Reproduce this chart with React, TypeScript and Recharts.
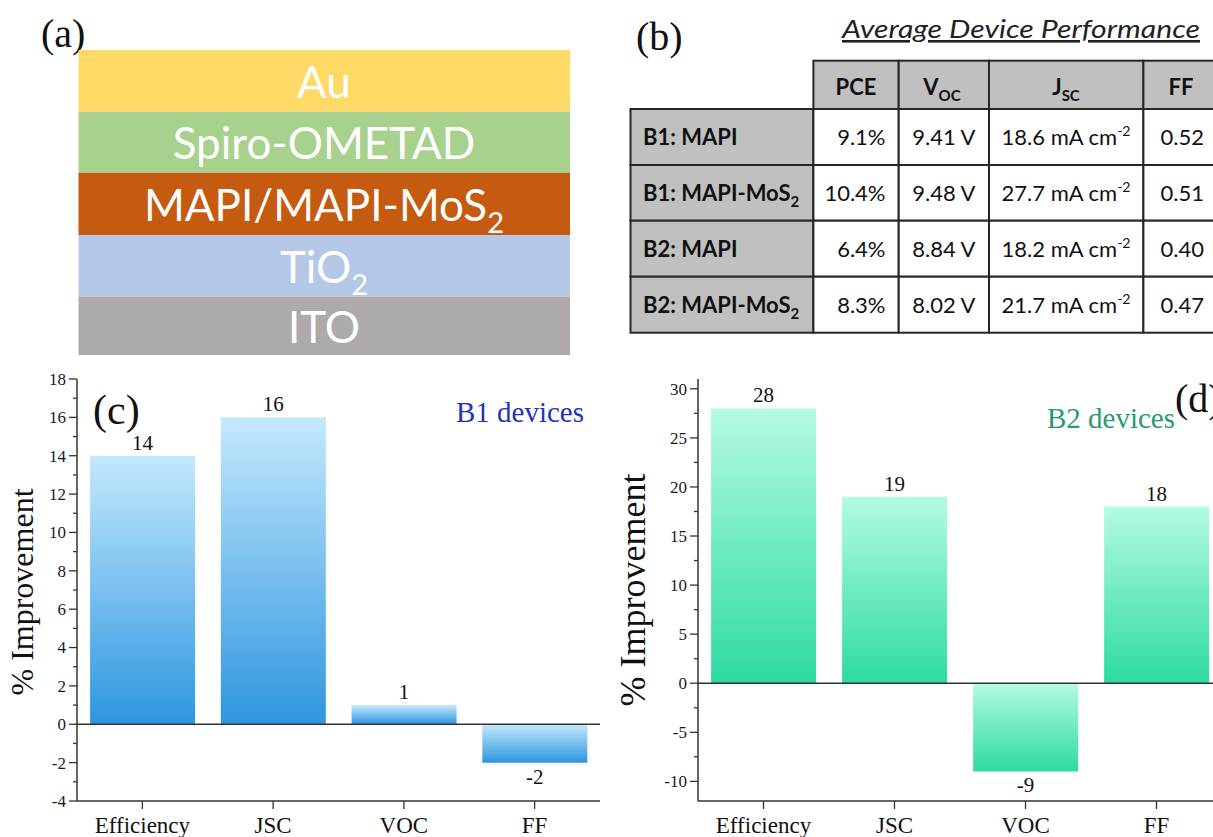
import React from "react"
import { Bar, BarChart, LabelList, ReferenceLine, XAxis, YAxis } from "recharts"

const serif = "'Liberation Serif', 'Times New Roman', serif"
const sans = "Lato, 'Open Sans', sans-serif"

// (c) and (d) bar data
const categories = ["Efficiency", "JSC", "VOC", "FF"]
const b1Improvement = [14, 16, 1, -2]
const b2Improvement = [28, 19, -9, 18]
const b1Ticks = [-4, -3, -2, -1, 0, 1, 2, 3, 4, 5, 6, 7, 8, 9, 10, 11, 12, 13, 14, 15, 16, 17, 18]
const b2Ticks = [-10, -7.5, -5, -2.5, 0, 2.5, 5, 7.5, 10, 12.5, 15, 17.5, 20, 22.5, 25, 27.5, 30]

// (a) device stack
const layerNames = ["Au", "Spiro-OMETAD", "MAPI/MAPI-MoS", "TiO", "ITO"]
const layerSubs = ["", "", "2", "2", ""]
const layerColors = ["#ffd966", "#a9d18e", "#c55a11", "#b4c7e7", "#aeaaaa"]

// (b) table
const rowLabels = ["B1: MAPI", "B1: MAPI-MoS", "B2: MAPI", "B2: MAPI-MoS"]
const rowLabelSubs = ["", "2", "", "2"]
const pceValues = ["9.1%", "10.4%", "6.4%", "8.3%"]
const vocValues = ["9.41 V", "9.48 V", "8.84 V", "8.02 V"]
const jscValues = ["18.6", "27.7", "18.2", "21.7"]
const ffValues = ["0.52", "0.51", "0.40", "0.47"]

const b1Data = categories.map((name, i) => ({ name, value: b1Improvement[i] }))
const b2Data = categories.map((name, i) => ({ name, value: b2Improvement[i] }))

const axisColor = "#333"

const makeYTick = (step: number) => (props: any) => {
  const { x, y, payload } = props
  const major = Math.abs(payload.value % step) < 1e-6
  return (
    <g>
      <line x1={x - (major ? 8 : 4)} x2={x} y1={y} y2={y} stroke={axisColor} strokeWidth={1.3} />
      {major && (
        <text x={x - 11} y={y} dy="0.35em" textAnchor="end" fontSize={17} style={{ fontFamily: serif }} fill="#1a1a1a">
          {payload.value}
        </text>
      )}
    </g>
  )
}

interface ImprovementChartProps {
  data: { name: string; value: number }[]
  domain: [number, number]
  ticks: number[]
  step: number
  gradId: string
  light: string
  dark: string
  width: number
  marginLeft: number
  marginRight: number
}

function ImprovementChart(p: ImprovementChartProps) {
  return (
    <BarChart
      width={p.width}
      height={477}
      data={p.data}
      margin={{ top: 19, right: p.marginRight, bottom: 0, left: p.marginLeft }}
      barCategoryGap="10%"
      style={{ fontFamily: serif }}
    >
      <defs>
        <linearGradient id={p.gradId} x1="0" y1="0" x2="0" y2="1">
          <stop offset="0" stopColor={p.light} />
          <stop offset="1" stopColor={p.dark} />
        </linearGradient>
      </defs>
      <XAxis
        dataKey="name"
        height={36}
        tickSize={8}
        tickMargin={8}
        axisLine={{ stroke: axisColor, strokeWidth: 1.5 }}
        tickLine={{ stroke: axisColor, strokeWidth: 1.3 }}
        tick={{ fontSize: 23, fill: "#111", fontFamily: serif, style: { fontFamily: serif } }}
      />
      <XAxis xAxisId="top" dataKey="name" orientation="top" height={0} tick={false} tickLine={false} axisLine={{ stroke: axisColor, strokeWidth: 1.5 }} />
      <YAxis
        width={60}
        domain={p.domain}
        ticks={p.ticks}
        interval={0}
        tickSize={0}
        tickMargin={0}
        tickLine={false}
        axisLine={{ stroke: axisColor, strokeWidth: 1.5 }}
        tick={makeYTick(p.step)}
      />
      <YAxis yAxisId="right" orientation="right" width={0} domain={p.domain} tick={false} tickLine={false} axisLine={{ stroke: axisColor, strokeWidth: 1.5 }} />
      <ReferenceLine y={0} stroke={axisColor} strokeWidth={1.5} />
      <Bar dataKey="value" fill={`url(#${p.gradId})`} isAnimationActive={false}>
        <LabelList dataKey="value" position="top" offset={6} fontSize={21} fill="#111" fontFamily={serif} />
      </Bar>
    </BarChart>
  )
}

const layerBounds = [50, 111.7, 172.7, 235, 296.7, 355]
const colX = [630.5, 813.4, 898.7, 989, 1143.4, 1217]
const rowY = [60.7, 109, 165, 220.7, 276.7, 332.7]

function Overlay() {
  const border = "#262626"
  return (
    <svg width={1213} height={837} style={{ position: "absolute", left: 0, top: 0, pointerEvents: "none" }}>
      {/* panel letters */}
      <text x={41} y={47} fontSize={40} fontFamily={serif} fill="#111">(a)</text>
      <text x={636} y={50} fontSize={40} fontFamily={serif} fill="#111">(b)</text>
      <text x={93} y={424} fontSize={42} fontFamily={serif} fill="#111">(c)</text>
      <text x={1175} y={412} fontSize={40} fontFamily={serif} fill="#111">(d)</text>
      <text x={584} y={422} textAnchor="end" fontSize={29} fontFamily={serif} fill="#2233bb">B1 devices</text>
      <text x={1175} y={428} textAnchor="end" fontSize={29} fontFamily={serif} fill="#2a9a6e">B2 devices</text>
      <text transform="translate(33,592) rotate(-90)" textAnchor="middle" fontSize={32} fontFamily={serif} fill="#111">% Improvement</text>
      <text transform="translate(645,590) rotate(-90)" textAnchor="middle" fontSize={36} fontFamily={serif} fill="#111">% Improvement</text>

      {/* (a) layer stack */}
      {layerNames.map((name, i) => {
        const y0 = layerBounds[i]
        const y1 = layerBounds[i + 1]
        return (
          <g key={name}>
            <rect x={78.5} y={y0} width={491.5} height={y1 - y0} fill={layerColors[i]} />
            <text x={324} y={(y0 + y1) / 2 + 17} textAnchor="middle" fontSize={44} fontFamily={sans} fill="#fff">
              {name}
              {layerSubs[i] && <tspan fontSize={29} dy={12}>{layerSubs[i]}</tspan>}
            </text>
          </g>
        )
      })}

      {/* (b) table */}
      <text x={842} y={38} fontSize={26} fontStyle="italic" fontFamily={sans} fill="#222" textLength={358} lengthAdjust="spacingAndGlyphs" style={{ textDecoration: "underline" }}>
        Average Device Performance
      </text>
      {[1, 2, 3, 4].map((c) => (
        <rect key={`h${c}`} x={colX[c]} y={rowY[0]} width={colX[c + 1] - colX[c]} height={rowY[1] - rowY[0]} fill="#c0c0c0" stroke={border} strokeWidth={2} />
      ))}
      {rowLabels.map((label, r) => {
        const y0 = rowY[r + 1]
        const y1 = rowY[r + 2]
        const base = (y0 + y1) / 2 + 8
        return (
          <g key={label + r}>
            <rect x={colX[0]} y={y0} width={colX[1] - colX[0]} height={y1 - y0} fill="#c0c0c0" stroke={border} strokeWidth={2} />
            {[1, 2, 3, 4].map((c) => (
              <rect key={c} x={colX[c]} y={y0} width={colX[c + 1] - colX[c]} height={y1 - y0} fill="#fff" stroke={border} strokeWidth={2} />
            ))}
            <text x={643} y={base} fontSize={22} fontWeight="bold" fontFamily={sans} fill="#111">
              {label}
              {rowLabelSubs[r] && <tspan fontSize={15} dy={6}>{rowLabelSubs[r]}</tspan>}
            </text>
            <text x={885.5} y={base} textAnchor="end" fontSize={22} fontFamily={sans} fill="#111">{pceValues[r]}</text>
            <text x={975.5} y={base} textAnchor="end" fontSize={22} fontFamily={sans} fill="#111">{vocValues[r]}</text>
            <text x={1066} y={base} textAnchor="middle" fontSize={22} fontFamily={sans} fill="#111">
              {jscValues[r]} mA cm<tspan fontSize={14} dy={-9}>-2</tspan>
            </text>
            <text x={1204} y={base} textAnchor="end" fontSize={22} fontFamily={sans} fill="#111">{ffValues[r]}</text>
          </g>
        )
      })}
      <text x={856} y={95} textAnchor="middle" fontSize={22} fontWeight="bold" fontFamily={sans} fill="#111">PCE</text>
      <text x={942} y={95} textAnchor="middle" fontSize={22} fontWeight="bold" fontFamily={sans} fill="#111">
        V<tspan fontSize={15} dy={6}>OC</tspan>
      </text>
      <text x={1066} y={95} textAnchor="middle" fontSize={22} fontWeight="bold" fontFamily={sans} fill="#111">
        J<tspan fontSize={15} dy={6}>SC</tspan>
      </text>
      <text x={1181} y={95} textAnchor="middle" fontSize={22} fontWeight="bold" fontFamily={sans} fill="#111">FF</text>
    </svg>
  )
}

export default function App() {
  return (
    <div style={{ position: "absolute", left: 0, top: 0, width: 1213, height: 837, overflow: "hidden", background: "#fff", fontFamily: serif }}>
      <div style={{ position: "absolute", left: 0, top: 360 }}>
        <ImprovementChart
          data={b1Data}
          domain={[-4, 18]}
          ticks={b1Ticks}
          step={2}
          gradId="b1Grad"
          light="#c4e9fd"
          dark="#2e96df"
          width={620}
          marginLeft={17}
          marginRight={20}
        />
      </div>
      <div style={{ position: "absolute", left: 600, top: 360 }}>
        <ImprovementChart
          data={b2Data}
          domain={[-12, 31]}
          ticks={b2Ticks}
          step={5}
          gradId="b2Grad"
          light="#b4fbe2"
          dark="#2ddba0"
          width={640}
          marginLeft={38}
          marginRight={18}
        />
      </div>
      <Overlay />
    </div>
  )
}
